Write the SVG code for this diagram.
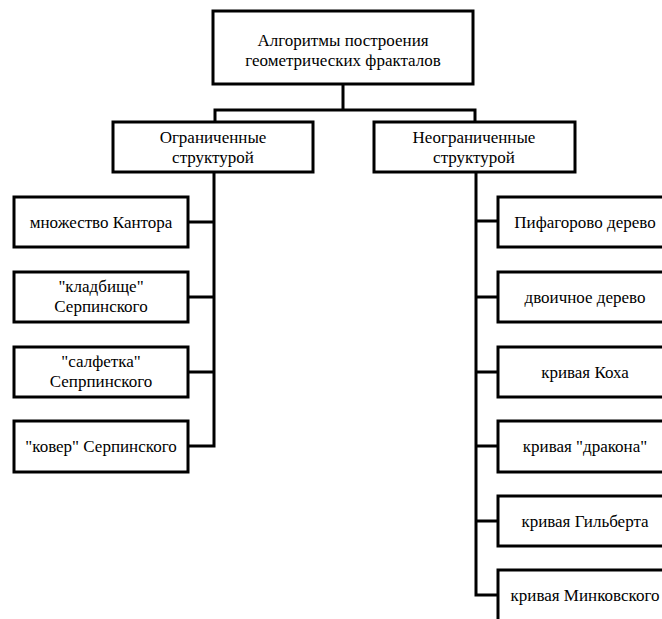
<svg xmlns="http://www.w3.org/2000/svg" width="662" height="619" viewBox="0 0 662 619">
  <style>
    .box { fill: #ffffff; stroke: #000000; stroke-width: 3; }
    .wire { fill: none; stroke: #000000; stroke-width: 3; stroke-linecap: square; stroke-linejoin: miter; }
    text { font-family: "Liberation Serif", "Times New Roman", serif; font-size: 17px; fill: #000000; text-anchor: middle; }
  </style>
  <rect width="662" height="619" fill="#ffffff"/>

  <!-- connectors -->
  <g id="connectors">
    <path class="wire" d="M343 84 V110 M215 122 V110 H475 V122"/>
    <path class="wire" d="M214 172 V446 M188 222 H214 M188 297 H214 M188 372 H214 M188 446 H214"/>
    <path class="wire" d="M476 172 V595 M476 221 H498 M476 297 H498 M476 372 H498 M476 446 H498 M476 521 H498 M476 595 H498"/>
  </g>

  <!-- root -->
  <g id="root">
    <rect class="box" x="213" y="11" width="260" height="73"/>
    <text x="343" y="46">Алгоритмы построения</text>
    <text x="343" y="66">геометрических фракталов</text>
  </g>

  <!-- branches -->
  <g id="bounded">
    <rect class="box" x="113" y="122" width="200" height="50"/>
    <text x="213" y="143">Ограниченные</text>
    <text x="213" y="163">структурой</text>
  </g>
  <g id="unbounded">
    <rect class="box" x="374" y="122" width="201" height="50"/>
    <text x="474" y="143">Неограниченные</text>
    <text x="474" y="163">структурой</text>
  </g>

  <!-- bounded leaves -->
  <g id="cantor">
    <rect class="box" x="14" y="197" width="174" height="50"/>
    <text x="101" y="228">множество Кантора</text>
  </g>
  <g id="sierpinski-cemetery">
    <rect class="box" x="14" y="272" width="174" height="50"/>
    <text x="101" y="292">"кладбище"</text>
    <text x="101" y="312">Серпинского</text>
  </g>
  <g id="sierpinski-napkin">
    <rect class="box" x="14" y="347" width="174" height="50"/>
    <text x="101" y="367">"салфетка"</text>
    <text x="101" y="387">Сепрпинского</text>
  </g>
  <g id="sierpinski-carpet">
    <rect class="box" x="14" y="421" width="174" height="51"/>
    <text x="101" y="452">"ковер" Серпинского</text>
  </g>

  <!-- unbounded leaves -->
  <g id="pythagoras-tree">
    <rect class="box" x="498" y="197" width="174" height="50"/>
    <text x="585" y="228">Пифагорово дерево</text>
  </g>
  <g id="binary-tree">
    <rect class="box" x="498" y="272" width="174" height="50"/>
    <text x="585" y="303">двоичное дерево</text>
  </g>
  <g id="koch-curve">
    <rect class="box" x="498" y="347" width="174" height="50"/>
    <text x="585" y="378">кривая Коха</text>
  </g>
  <g id="dragon-curve">
    <rect class="box" x="498" y="421" width="174" height="51"/>
    <text x="585" y="452">кривая "дракона"</text>
  </g>
  <g id="hilbert-curve">
    <rect class="box" x="498" y="496" width="174" height="50"/>
    <text x="585" y="527">кривая Гильберта</text>
  </g>
  <g id="minkowski-curve">
    <rect class="box" x="498" y="570" width="174" height="52"/>
    <text x="585" y="601">кривая Минковского</text>
  </g>
</svg>
